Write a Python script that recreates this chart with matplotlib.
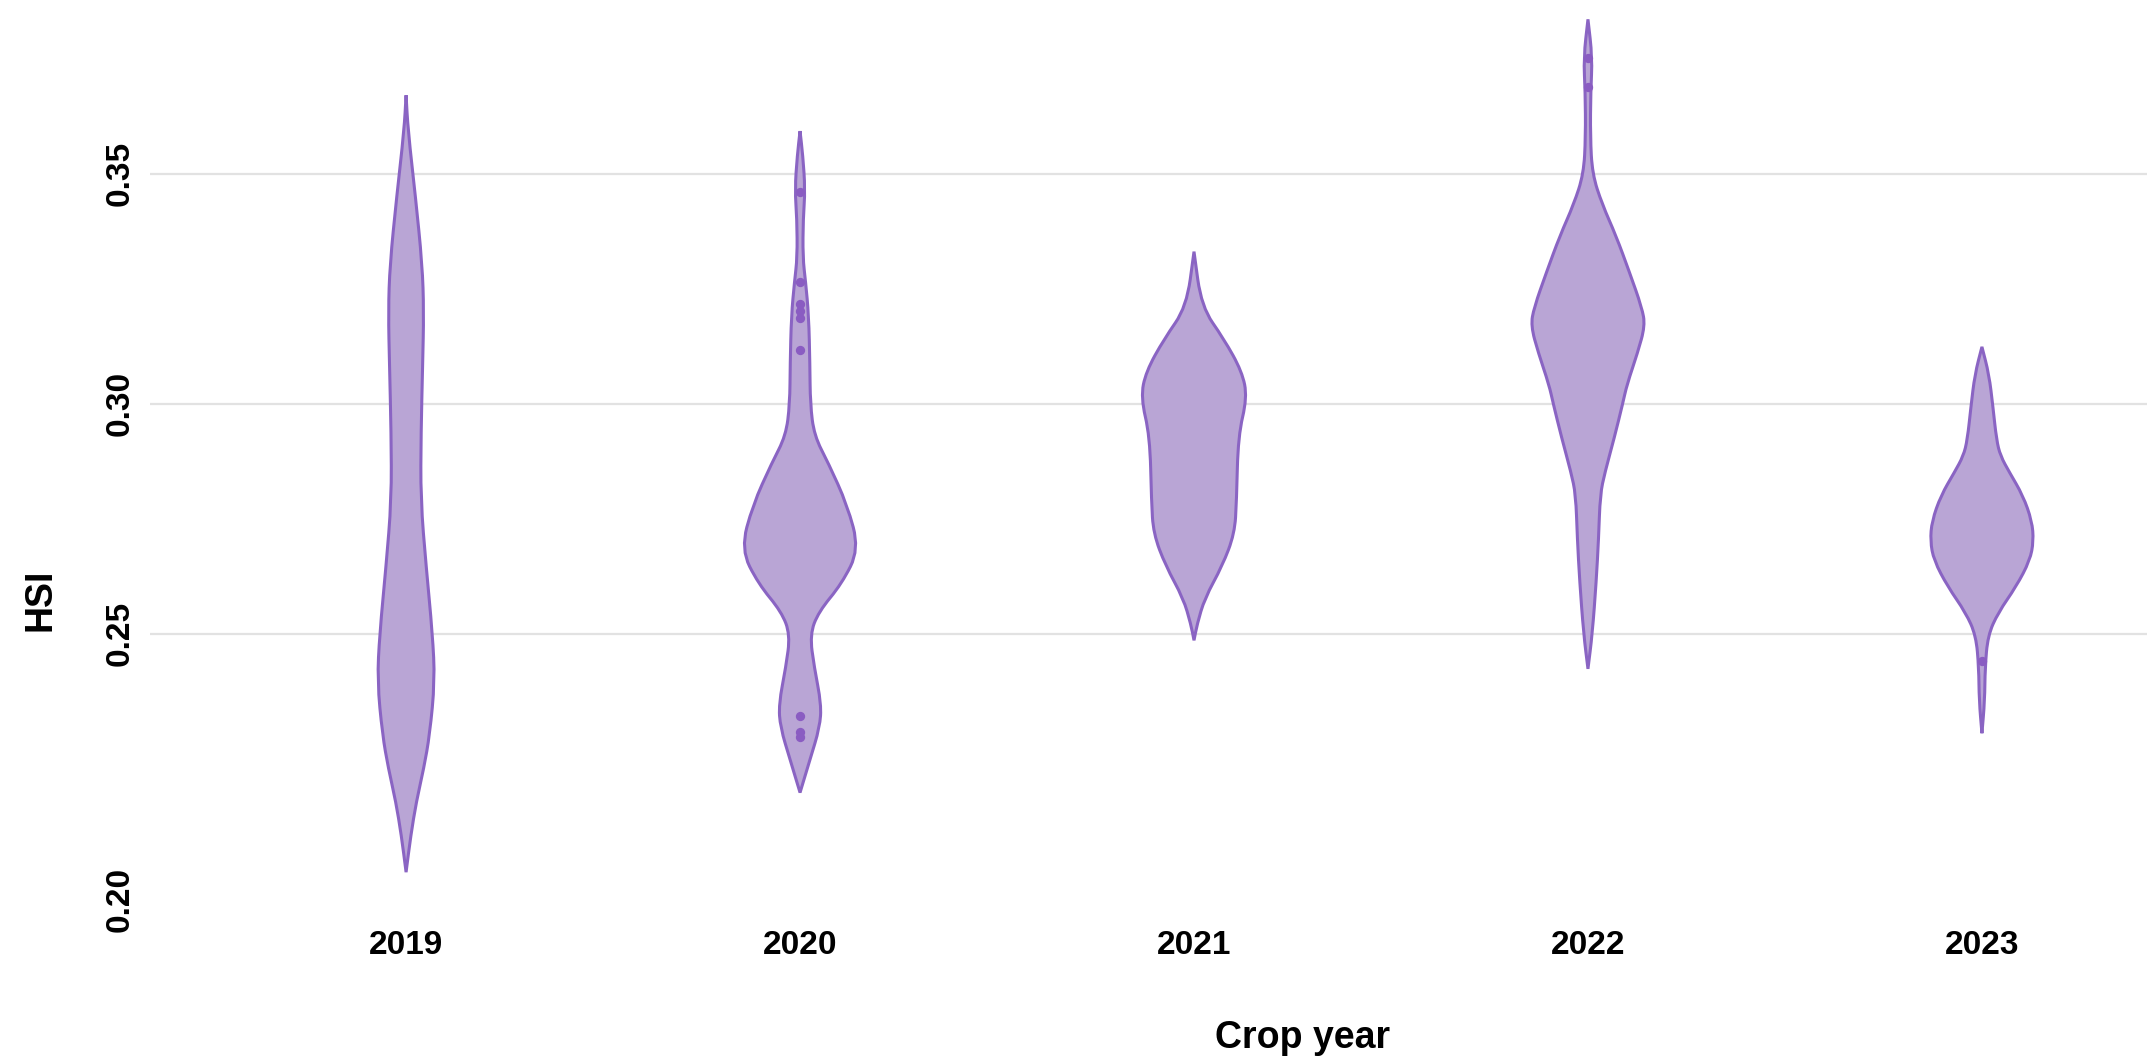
import matplotlib
matplotlib.use('Agg')
import matplotlib.pyplot as plt
from matplotlib.path import Path
from matplotlib.patches import PathPatch
from matplotlib.transforms import ScaledTranslation

# Crop years on the x axis
years = ['2019', '2020', '2021', '2022', '2023']

# Violin outlines: HSI level and half-width of the density at that level
hsi_2019 = [0.3671, 0.3595, 0.3449, 0.3303, 0.3201, 0.3084, 0.2938, 0.2792,
            0.2646, 0.2500, 0.2398, 0.2281, 0.2208, 0.2135, 0.2062, 0.1982]
width_2019 = [0.0, 0.005, 0.024, 0.041, 0.045, 0.042, 0.038, 0.037,
              0.051, 0.067, 0.073, 0.060, 0.045, 0.026, 0.012, 0.0]

hsi_2020 = [0.3593, 0.3540, 0.3466, 0.3403, 0.3319, 0.3266, 0.3192, 0.3087,
            0.3000, 0.2931, 0.2871, 0.2780, 0.2684, 0.2609, 0.2548, 0.2498,
            0.2428, 0.2347, 0.2297, 0.2226, 0.2155]
width_2020 = [0.0, 0.007, 0.013, 0.008, 0.007, 0.014, 0.022, 0.025,
              0.026, 0.036, 0.072, 0.120, 0.150, 0.106, 0.047, 0.025,
              0.036, 0.054, 0.050, 0.025, 0.0]

hsi_2021 = [0.3331, 0.3211, 0.3141, 0.3070, 0.3014, 0.2930, 0.2789, 0.2718,
            0.2648, 0.2577, 0.2521, 0.2486]
width_2021 = [0.0, 0.019, 0.076, 0.122, 0.135, 0.112, 0.108, 0.103,
              0.072, 0.027, 0.008, 0.0]

hsi_2022 = [0.3836, 0.3753, 0.3679, 0.3581, 0.3500, 0.3434, 0.3366, 0.3287,
            0.3209, 0.3170, 0.3111, 0.3042, 0.3000, 0.2927, 0.2851, 0.2803,
            0.2708, 0.2614, 0.2500, 0.2424]
width_2022 = [0.0, 0.011, 0.007, 0.006, 0.011, 0.036, 0.071, 0.105,
              0.137, 0.145, 0.126, 0.099, 0.088, 0.067, 0.043, 0.031,
              0.027, 0.021, 0.011, 0.0]

hsi_2023 = [0.3124, 0.3064, 0.2993, 0.2922, 0.2887, 0.2851, 0.2801, 0.2745,
            0.2702, 0.2660, 0.2603, 0.2546, 0.2496, 0.2426, 0.2355, 0.2284]
width_2023 = [0.0, 0.018, 0.028, 0.037, 0.047, 0.070, 0.104, 0.127,
              0.131, 0.122, 0.087, 0.041, 0.015, 0.008, 0.007, 0.0]

# Individual points shown inside the violins
points_2020 = [0.3461, 0.3266, 0.3218, 0.3203, 0.3187, 0.3118, 0.2322, 0.2286, 0.2276]
points_2022 = [0.3753, 0.3689]
points_2023 = [0.2440]

violins = [(hsi_2019, width_2019), (hsi_2020, width_2020), (hsi_2021, width_2021),
           (hsi_2022, width_2022), (hsi_2023, width_2023)]
points = {2: points_2020, 4: points_2022, 5: points_2023}

yticks = [0.20, 0.25, 0.30, 0.35]
ytick_labels = ['0.20', '0.25', '0.30', '0.35']

fill_color = '#b9a5d5'
edge_color = '#8a64c3'
point_color = '#8a5cc2'


def smooth_side(pts):
    """Quadratic B-spline through the outline points, ends pinned."""
    verts = [pts[0], ((pts[0][0] + pts[1][0]) / 2, (pts[0][1] + pts[1][1]) / 2)]
    codes = [Path.MOVETO, Path.LINETO]
    for k in range(1, len(pts) - 1):
        nxt = pts[k + 1]
        verts += [pts[k], ((pts[k][0] + nxt[0]) / 2, (pts[k][1] + nxt[1]) / 2)]
        codes += [Path.CURVE3, Path.CURVE3]
    verts.append(pts[-1])
    codes.append(Path.LINETO)
    return verts, codes


def violin_path(pos, hsi, width):
    right = [(pos + w, h) for h, w in zip(hsi, width)]
    left = [(pos - w, h) for h, w in zip(hsi, width)][::-1]
    rv, rc = smooth_side(right)
    lv, lc = smooth_side(left)
    lc[0] = Path.LINETO
    verts = rv + lv + [rv[0]]
    codes = rc + lc + [Path.CLOSEPOLY]
    return Path(verts, codes)


plt.rcParams['font.family'] = ['Liberation Sans', 'DejaVu Sans']
plt.rcParams['font.weight'] = 'bold'

fig = plt.figure(figsize=(21.47, 10.59), dpi=100)
ax = fig.add_axes([150 / 2147, 179 / 1059, 1997 / 2147, 880 / 1059])

for i, (hsi, width) in enumerate(violins):
    patch = PathPatch(violin_path(i + 1, hsi, width), facecolor=fill_color,
                      edgecolor=edge_color, linewidth=2.2, zorder=3)
    ax.add_patch(patch)

for pos, vals in points.items():
    ax.scatter([pos] * len(vals), vals, s=45, color=point_color, zorder=4, linewidths=0)

ax.set_xlim(0.35, 5.419)
ax.set_ylim(0.1965, 0.3878)
ax.set_xticks(range(1, len(years) + 1))
ax.set_xticklabels(years, fontsize=24, fontweight='bold')
ax.set_yticks(yticks)
ax.set_yticklabels(ytick_labels, fontsize=24, fontweight='bold', rotation=90, va='center')
ax.tick_params(axis='x', length=0, pad=36)
ax.tick_params(axis='y', length=0, pad=10)

# the lowest label sits a little below its gridline level
low = ax.get_yticklabels()[0]
low.set_transform(low.get_transform() + ScaledTranslation(0, -0.36, fig.dpi_scale_trans))

ax.grid(axis='y', color='#e2e2e2', linewidth=1.6, zorder=0)
ax.get_ygridlines()[0].set_visible(False)
ax.set_axisbelow(True)
for spine in ax.spines.values():
    spine.set_visible(False)

ax.set_xlabel('Crop year', fontsize=27, fontweight='bold', va='center')
ax.xaxis.set_label_coords(0.577, -0.18)
ax.set_ylabel('HSI', fontsize=27, fontweight='bold', va='center', ha='center')
ax.yaxis.set_label_coords(-0.0546, 0.318)

fig.savefig('out.png', dpi=100, facecolor='white')
